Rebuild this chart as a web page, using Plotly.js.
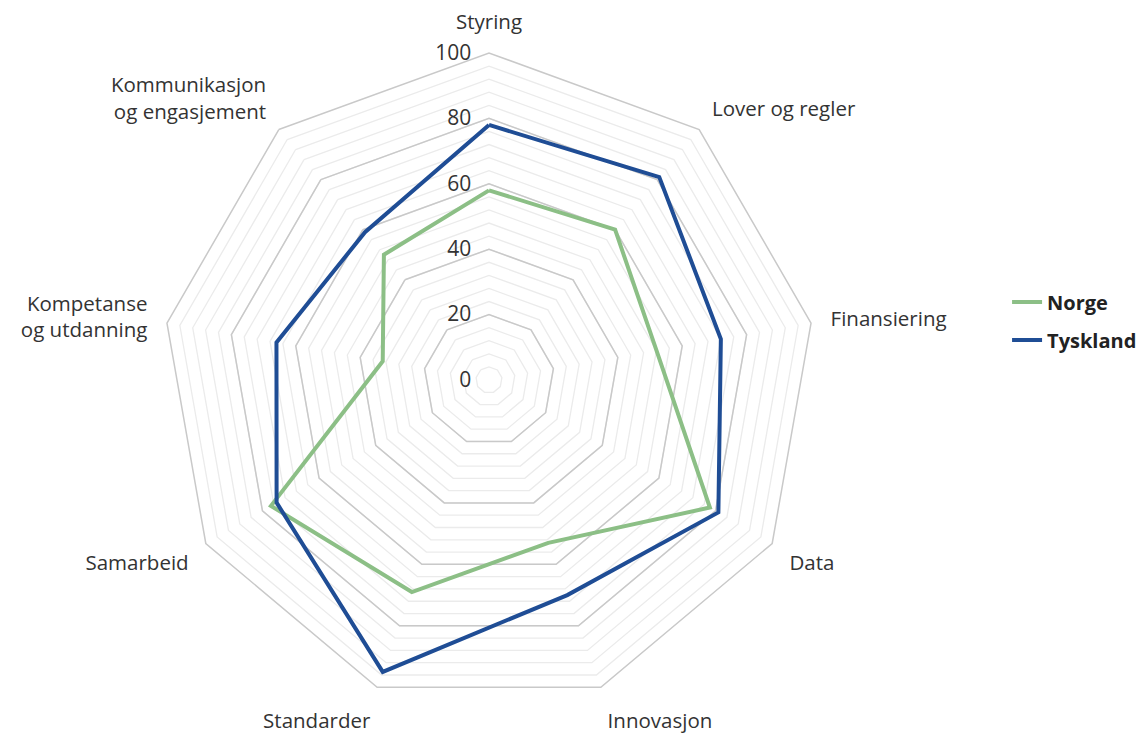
<!DOCTYPE html>
<html>
<head>
<meta charset="utf-8">
<script src="https://cdn.plot.ly/plotly-3.0.1.min.js"></script>
<style>html,body{margin:0;padding:0;background:#fff;}#chart{width:1147px;height:733px;}</style>
</head>
<body>
<div id="chart"></div>
<script>
const categories = ["Styring", "Lover og regler", "Finansiering", "Data", "Innovasjon", "Standarder", "Samarbeid", "Kompetanse<br>og utdanning", "Kommunikasjon<br>og engasjement"];
const norge = [58, 60, 52, 78, 53, 69, 77, 33, 50];
const tyskland = [78, 81, 72, 81, 70, 95, 75, 66, 59];
const radialTicks = [0, 20, 40, 60, 80, 100];

function closed(a){ return a.concat([a[0]]); }

const traces = [
  {type:'scatterpolar', subplot:'polar2', name:'Norge', legendgroup:'a', r:closed(norge), theta:closed(categories), mode:'lines',
   line:{color:'#8cbf86', width:4}, hoverinfo:'skip'},
  {type:'scatterpolar', subplot:'polar2', name:'Tyskland', legendgroup:'b', r:closed(tyskland), theta:closed(categories), mode:'lines',
   line:{color:'#1f4d95', width:4}, hoverinfo:'skip'},
  {type:'scatterpolar', subplot:'polar', r:closed(norge), theta:closed(categories), mode:'lines',
   line:{color:'rgba(0,0,0,0)', width:0}, showlegend:false, hoverinfo:'skip'}
];

const dom = {x:[162/1147, 816/1147], y:[26/733, 680/733]};
const fontFam = '"Open Sans", Lato, sans-serif';

const layout = {
  width:1147, height:733,
  margin:{l:0, r:0, t:0, b:0},
  paper_bgcolor:'#ffffff',
  font:{family:fontFam, color:'#333333', size:20},
  showlegend:true,
  legend:{x:0.878, y:0.562, xanchor:'left', yanchor:'middle', font:{size:20, color:'#222', family:fontFam, weight:'bold'}, itemwidth:30, tracegroupgap:9},
  polar:{
    domain:dom, bgcolor:'rgba(0,0,0,0)', gridshape:'linear',
    angularaxis:{rotation:90, direction:'clockwise', showgrid:false, showline:false, showticklabels:false, ticks:''},
    radialaxis:{range:[0,100], dtick:4, tick0:0, showgrid:true, gridcolor:'#ebebeb', gridwidth:1.3, showline:false, showticklabels:false, ticks:''}
  },
  polar2:{
    domain:dom, bgcolor:'rgba(0,0,0,0)', gridshape:'linear',
    angularaxis:{rotation:90, direction:'clockwise', showgrid:false, showline:true, linecolor:'#c9c9c9', linewidth:1.5,
      ticks:'outside', ticklen:15, tickcolor:'rgba(0,0,0,0)',
      tickfont:{size:20.5, color:'#333', family:fontFam}},
    radialaxis:{range:[0,100], tickvals:radialTicks, showgrid:true, gridcolor:'#c9c9c9', gridwidth:1.5, showline:false,
      ticks:'outside', ticklen:10, tickcolor:'rgba(0,0,0,0)',
      angle:90, tickangle:90, side:'counterclockwise', tickfont:{size:21, color:'#333', family:fontFam}}
  }
};

Plotly.newPlot('chart', traces, layout, {displayModeBar:false, staticPlot:true});
</script>
</body>
</html>
